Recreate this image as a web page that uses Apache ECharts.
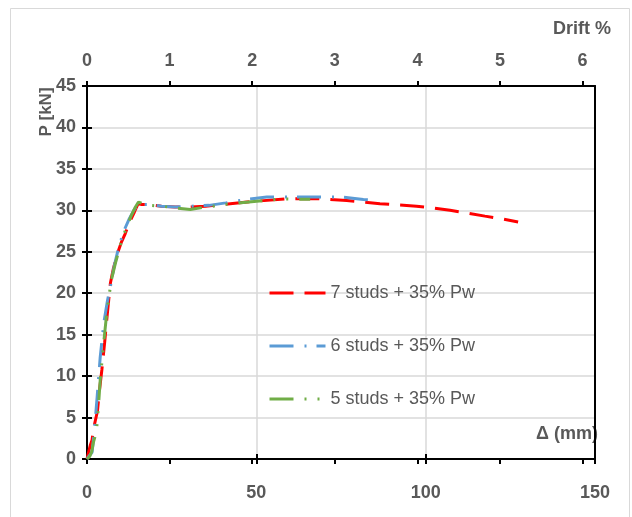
<!DOCTYPE html>
<html><head><meta charset="utf-8">
<script src="https://cdn.jsdelivr.net/npm/echarts@6/dist/echarts.min.js"></script>
<style>html,body{margin:0;padding:0;background:#fff}#c{width:632px;height:517px}</style>
</head><body><div id="c"></div>
<script>
// ---- data ----
const seriesNames = ['7 studs + 35% Pw', '6 studs + 35% Pw', '5 studs + 35% Pw'];
const studs7 = [[0,0],[0.5,0.9],[1.0,1.7],[1.5,2.3],[1.9,3.6],[2.5,4.7],[3.1,5.8],[3.6,8],[4.4,10.8],[5.2,14],[6.0,17.5],[6.9,21.2],[7.8,23],[9,24.8],[10.2,26.2],[11.3,27.2],[12.6,28.6],[14,29.8],[15.1,30.8],[16.2,30.7],[18.2,30.7],[22,30.5],[26,30.4],[30,30.4],[35,30.5],[42.3,30.8],[50,31.1],[59,31.4],[68,31.4],[76.7,31.2],[86.5,30.8],[97.3,30.5],[102,30.3],[107.2,30],[112,29.7],[117.5,29.3],[122,29],[127.3,28.6]];
const studs6 = [[0,0],[0.7,0.4],[1.5,0.8],[2.2,3.5],[3.0,7.5],[3.9,12.3],[5,16.5],[6,19],[6.9,20.8],[8,23.2],[9.5,25.8],[11.3,27.9],[12.5,29],[13.8,30],[15.2,30.8],[16.5,30.7],[18.2,30.7],[22,30.5],[26,30.4],[31,30.5],[36,30.6],[41,30.9],[46.7,31.3],[53.1,31.6],[59.6,31.6],[66.5,31.6],[70,31.6],[75.2,31.6],[81.6,31.3],[85.5,31.2]];
const studs5 = [[0,0],[0.8,0.3],[1.4,0.9],[1.95,2.1],[2.3,2.6],[2.9,3.9],[3.4,6.5],[3.9,9.5],[4.8,13.5],[5.8,17.5],[6.9,20.8],[7.2,21.6],[8.5,23.8],[10,26],[11.5,27.8],[13,29.3],[14.3,30.4],[15.2,31],[16.5,30.8],[18.2,30.6],[22,30.5],[26,30.3],[30.5,30.1],[35,30.4],[39.3,30.6],[42.3,30.8],[50.1,31.1],[53.6,31.2],[57.2,31.4],[61,31.35],[65.9,31.35]];
const deltaMin = 0, deltaMax = 150, deltaStep = 50;
const pMin = 0, pMax = 45, pStep = 5;
const driftTicks = [0, 1, 2, 3, 4, 5, 6];
const driftMax = 6.15;
const xTitle = 'Δ (mm)', yTitle = 'P [kN]', topTitle = 'Drift %';

// ---- chart ----
const grey = '#595959';
const tickFont = {fontFamily: "'Liberation Sans',sans-serif", fontWeight: 'bold', fontSize: 18, color: grey};
const blackLine = {color: '#000', width: 2};
const tk = (inside) => ({show: true, inside: inside, length: 5, lineStyle: {color: '#000', width: 2}});

const chart = echarts.init(document.getElementById('c'), null, {renderer: 'canvas'});
chart.setOption({
  animation: false,
  backgroundColor: '#fff',
  grid: {left: 87, right: 37, top: 86, bottom: 58},
  xAxis: [
    {type: 'value', position: 'bottom', min: deltaMin, max: deltaMax, interval: deltaStep,
     axisLine: {show: true, onZero: false, lineStyle: blackLine}, axisTick: tk(false),
     axisLabel: Object.assign({margin: 25}, tickFont),
     splitLine: {show: true, lineStyle: {color: '#d9d9d9', width: 1.5}}},
    {type: 'value', position: 'bottom', min: deltaMin, max: deltaMax, interval: deltaStep,
     axisLine: {show: false}, axisTick: tk(true), axisLabel: {show: false}, splitLine: {show: false}},
    {type: 'value', position: 'top', min: 0, max: driftMax, interval: 1,
     axisLine: {show: true, onZero: false, lineStyle: blackLine},
     axisTick: Object.assign(tk(false), {customValues: driftTicks}),
     axisLabel: Object.assign({margin: 16, customValues: driftTicks}, tickFont),
     splitLine: {show: false}},
    {type: 'value', position: 'top', min: 0, max: driftMax, interval: 1,
     axisLine: {show: false}, axisTick: Object.assign(tk(true), {customValues: driftTicks}),
     axisLabel: {show: false}, splitLine: {show: false}}
  ],
  yAxis: [
    {type: 'value', position: 'left', min: pMin, max: pMax, interval: pStep,
     axisLine: {show: true, onZero: false, lineStyle: blackLine}, axisTick: tk(false),
     axisLabel: Object.assign({margin: 11}, tickFont),
     splitLine: {show: true, lineStyle: {color: '#d9d9d9', width: 1.5}}},
    {type: 'value', position: 'left', min: pMin, max: pMax, interval: pStep,
     axisLine: {show: false}, axisTick: tk(true), axisLabel: {show: false}, splitLine: {show: false}},
    {type: 'value', position: 'right', min: pMin, max: pMax, interval: pStep,
     axisLine: {show: true, onZero: false, lineStyle: blackLine}, axisTick: {show: false},
     axisLabel: {show: false}, splitLine: {show: false}}
  ],
  legend: {
    orient: 'vertical', left: 263, top: 278, padding: 5, itemWidth: 56, itemHeight: 14, itemGap: 33,
    itemStyle: {opacity: 0},
    lineStyle: {width: 3},
    textStyle: {fontFamily: "'Liberation Sans',sans-serif", fontSize: 18, color: grey, lineHeight: 20},
    data: seriesNames
  },
  series: [
    {name: seriesNames[0], type: 'line', data: studs7, xAxisIndex: 0, yAxisIndex: 0, symbol: 'none',
     lineStyle: {color: '#FF0000', width: 3, type: [24, 11]}, itemStyle: {color: '#FF0000'}},
    {name: seriesNames[1], type: 'line', data: studs6, xAxisIndex: 0, yAxisIndex: 0, symbol: 'none',
     lineStyle: {color: '#5B9BD5', width: 3, type: [24, 11, 2, 10]}, itemStyle: {color: '#5B9BD5'}},
    {name: seriesNames[2], type: 'line', data: studs5, xAxisIndex: 0, yAxisIndex: 0, symbol: 'none',
     lineStyle: {color: '#70AD47', width: 3, type: [24, 11, 2, 11, 2, 11]}, itemStyle: {color: '#70AD47'}}
  ],
  graphic: [
    {type: 'rect', silent: true, z: -10, shape: {x: 10.5, y: 8.5, width: 619, height: 520},
     style: {fill: 'none', stroke: '#d9d9d9', lineWidth: 1}},
    {type: 'text', x: 611, y: 29, style: {text: topTitle, font: "bold 18px 'Liberation Sans', sans-serif", fill: grey, align: 'right', verticalAlign: 'middle', textAlign: 'right', textVerticalAlign: 'middle'}},
    {type: 'text', x: 598, y: 434, style: {text: xTitle, font: "bold 18px 'Liberation Sans', sans-serif", fill: grey, align: 'right', verticalAlign: 'middle', textAlign: 'right', textVerticalAlign: 'middle'}},
    {type: 'text', x: 46, y: 112, rotation: Math.PI / 2, style: {text: yTitle, font: "bold 17px 'Liberation Sans', sans-serif", fill: grey, align: 'center', verticalAlign: 'middle', textAlign: 'center', textVerticalAlign: 'middle'}}
  ]
});
</script>
</body></html>
